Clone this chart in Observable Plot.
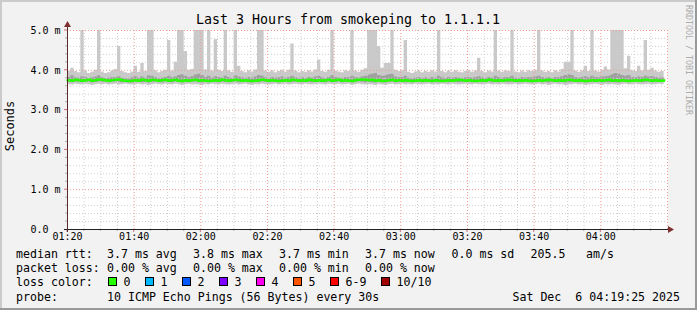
<!DOCTYPE html>
<html><head><meta charset="utf-8">
<script src="https://cdn.jsdelivr.net/npm/d3@7"></script>
<script src="https://cdn.jsdelivr.net/npm/@observablehq/plot@0.6"></script>
<style>
html,body{margin:0;padding:0;background:#f2f2f2;}
#chart{position:relative;width:697px;height:310px;}
svg text{font-family:"DejaVu Sans Mono",monospace;}
</style></head><body><div id="chart"></div>
<script>
// ---- data (seconds, shown as milliseconds "m") : one sample per minute from 01:20 ----
const maxPing = [
3.98,4.05,3.97,3.94,5.2,3.98,3.92,3.95,4.00,5.2,
3.96,3.92,3.94,3.98,4.02,4.6,3.97,3.94,3.92,3.96,
4.1,3.95,4.17,3.97,5.2,5.2,3.99,3.94,3.97,4.00,
4.75,3.98,4.2,5.2,5.2,4.47,4.00,4.02,5.2,5.2,
5.2,4.01,5.2,3.98,4.77,4.00,3.97,5.2,3.99,3.95,
5.2,4.1,3.97,3.94,3.99,3.96,4.01,5.2,5.2,3.98,
3.95,3.99,3.94,3.97,4.00,3.96,4.0,4.66,3.98,3.94,
3.97,3.95,3.99,3.96,4.01,4.26,3.97,3.95,4.00,5.2,
3.98,3.96,3.94,3.99,3.97,5.2,3.98,3.95,4.00,4.04,
5.2,5.2,5.2,4.6,4.05,4.17,4.17,5.2,4.00,3.97,
3.99,4.75,3.95,3.92,3.96,3.98,3.94,3.97,3.95,3.99,
3.96,5.2,3.97,3.94,3.98,3.95,3.99,3.96,3.94,3.97,
3.99,3.95,3.98,4.3,3.97,3.94,3.98,3.96,5.2,3.98,
3.95,3.99,3.97,5.2,3.96,3.94,3.98,3.95,3.99,3.97,
4.00,5.2,3.98,3.95,3.97,3.94,3.99,3.96,4.02,4.2,
4.2,5.2,3.98,3.95,3.99,4.1,3.97,5.2,3.98,3.96,
4.00,4.08,4.01,5.2,5.2,5.2,5.2,4.04,4.35,3.99,
3.97,4.1,3.98,4.75,4.00,4.05,3.98,3.95,3.97,3.96];
const hiPing = [
3.82,3.86,3.81,3.80,3.84,3.82,3.79,3.81,3.83,3.86,
3.81,3.79,3.80,3.82,3.81,3.84,3.80,3.79,3.78,3.81,
3.84,3.80,3.83,3.80,3.86,3.85,3.81,3.79,3.80,3.82,
3.85,3.81,3.83,3.87,3.89,3.85,3.82,3.84,3.88,3.90,
3.87,3.82,3.85,3.80,3.84,3.82,3.80,3.85,3.82,3.79,
3.86,3.83,3.81,3.79,3.82,3.80,3.83,3.87,3.85,3.81,
3.79,3.82,3.80,3.81,3.83,3.80,3.82,3.85,3.81,3.79,
3.81,3.79,3.82,3.80,3.83,3.85,3.81,3.79,3.82,3.86,
3.82,3.80,3.79,3.82,3.81,3.85,3.82,3.80,3.83,3.85,
3.88,3.90,3.92,3.87,3.85,3.87,3.89,3.90,3.83,3.81,
3.82,3.85,3.80,3.78,3.80,3.82,3.79,3.81,3.79,3.82,
3.80,3.85,3.81,3.79,3.82,3.80,3.82,3.80,3.79,3.81,
3.82,3.80,3.82,3.84,3.81,3.79,3.82,3.80,3.85,3.82,
3.80,3.82,3.81,3.85,3.80,3.79,3.82,3.80,3.82,3.81,
3.83,3.85,3.82,3.80,3.81,3.79,3.82,3.81,3.84,3.87,
3.89,3.87,3.82,3.80,3.82,3.84,3.81,3.85,3.82,3.81,
3.83,3.84,3.85,3.89,3.92,3.90,3.87,3.85,3.87,3.82,
3.81,3.83,3.82,3.85,3.83,3.84,3.82,3.80,3.81,3.80];
const medPing = [
3.75,3.74,3.76,3.75,3.74,3.75,3.76,3.74,3.75,3.77,
3.76,3.75,3.74,3.75,3.76,3.77,3.75,3.74,3.73,3.74,
3.75,3.74,3.76,3.75,3.74,3.76,3.75,3.74,3.75,3.76,
3.74,3.75,3.76,3.74,3.73,3.75,3.74,3.75,3.76,3.74,
3.75,3.74,3.73,3.74,3.75,3.74,3.76,3.75,3.74,3.75,
3.76,3.75,3.74,3.75,3.74,3.73,3.74,3.75,3.76,3.75,
3.74,3.75,3.74,3.73,3.74,3.75,3.74,3.76,3.75,3.74,
3.75,3.74,3.76,3.75,3.74,3.75,3.74,3.75,3.76,3.74,
3.75,3.76,3.74,3.75,3.74,3.73,3.75,3.76,3.77,3.76,
3.75,3.76,3.74,3.75,3.73,3.74,3.75,3.76,3.74,3.75,
3.74,3.75,3.74,3.73,3.74,3.75,3.74,3.75,3.74,3.73,
3.75,3.74,3.73,3.74,3.75,3.74,3.75,3.76,3.75,3.74,
3.75,3.74,3.73,3.74,3.75,3.74,3.76,3.75,3.74,3.75,
3.74,3.75,3.76,3.75,3.74,3.75,3.74,3.75,3.74,3.73,
3.74,3.75,3.74,3.75,3.76,3.75,3.74,3.75,3.74,3.75,
3.76,3.75,3.74,3.75,3.74,3.73,3.74,3.75,3.74,3.75,
3.74,3.75,3.76,3.74,3.75,3.74,3.75,3.74,3.73,3.74,
3.75,3.74,3.75,3.76,3.75,3.74,3.75,3.74,3.74,3.75];
const loPing = [
3.70,3.69,3.71,3.70,3.69,3.70,3.71,3.69,3.70,3.71,
3.70,3.71,3.69,3.70,3.71,3.70,3.69,3.70,3.69,3.68,
3.70,3.71,3.69,3.70,3.68,3.70,3.71,3.70,3.69,3.71,
3.70,3.69,3.71,3.70,3.68,3.70,3.69,3.70,3.71,3.69,
3.68,3.70,3.69,3.71,3.70,3.69,3.71,3.70,3.69,3.70,
3.71,3.69,3.70,3.71,3.69,3.68,3.70,3.69,3.71,3.70,
3.69,3.70,3.71,3.69,3.70,3.71,3.69,3.70,3.71,3.70,
3.69,3.71,3.70,3.69,3.70,3.71,3.70,3.69,3.71,3.70,
3.70,3.71,3.69,3.70,3.71,3.68,3.70,3.71,3.70,3.69,
3.70,3.69,3.68,3.70,3.69,3.68,3.70,3.71,3.69,3.70,
3.71,3.69,3.70,3.69,3.71,3.70,3.69,3.70,3.71,3.69,
3.70,3.69,3.71,3.70,3.69,3.71,3.70,3.69,3.70,3.71,
3.70,3.69,3.71,3.70,3.69,3.70,3.71,3.69,3.70,3.69,
3.71,3.70,3.69,3.70,3.71,3.69,3.70,3.71,3.70,3.69,
3.70,3.71,3.69,3.70,3.68,3.70,3.71,3.69,3.70,3.68,
3.69,3.70,3.71,3.69,3.70,3.68,3.69,3.70,3.71,3.70,
3.68,3.70,3.69,3.70,3.69,3.68,3.70,3.71,3.69,3.70,
3.71,3.70,3.69,3.70,3.71,3.69,3.70,3.71,3.70,3.70];
const minPing = [
3.64,3.63,3.65,3.64,3.63,3.65,3.64,3.62,3.64,3.65,
3.64,3.65,3.63,3.64,3.65,3.63,3.64,3.65,3.64,3.63,
3.64,3.65,3.63,3.64,3.62,3.64,3.65,3.64,3.63,3.65,
3.64,3.63,3.65,3.64,3.62,3.64,3.65,3.63,3.64,3.63,
3.62,3.64,3.63,3.65,3.64,3.63,3.65,3.64,3.63,3.64,
3.65,3.63,3.64,3.65,3.63,3.62,3.64,3.63,3.65,3.64,
3.63,3.64,3.65,3.63,3.64,3.65,3.63,3.64,3.65,3.64,
3.63,3.65,3.64,3.63,3.64,3.65,3.64,3.63,3.65,3.64,
3.64,3.65,3.63,3.64,3.65,3.62,3.64,3.65,3.64,3.63,
3.64,3.63,3.62,3.64,3.63,3.62,3.64,3.65,3.63,3.64,
3.65,3.63,3.64,3.63,3.65,3.64,3.63,3.64,3.65,3.63,
3.64,3.63,3.65,3.64,3.63,3.65,3.64,3.63,3.64,3.65,
3.64,3.63,3.65,3.64,3.63,3.64,3.65,3.63,3.64,3.63,
3.65,3.64,3.63,3.64,3.65,3.63,3.64,3.65,3.64,3.63,
3.64,3.65,3.63,3.64,3.62,3.64,3.65,3.63,3.64,3.62,
3.63,3.64,3.65,3.63,3.64,3.62,3.63,3.64,3.65,3.64,
3.62,3.64,3.63,3.64,3.63,3.62,3.64,3.65,3.63,3.64,
3.65,3.64,3.63,3.64,3.65,3.63,3.64,3.65,3.64,3.64];

const xTickLabels = ["01:20","01:40","02:00","02:20","02:40","03:00","03:20","03:40","04:00"];
const yTickValues = [0,1,2,3,4,5];
const yTickLabels = ["0.0","1.0 m","2.0 m","3.0 m","4.0 m","5.0 m"];
const lossLabels = ["0","1","2","3","4","5","6-9","10/10"];
const lossColors = ["#26ff00","#00b8ff","#0059ff","#7e00ff","#ff00ee","#ff5500","#ff0000","#a10000"];
const rttStats = ["3.7 ms avg","3.8 ms max","3.7 ms min","3.7 ms now","0.0 ms sd","205.5","am/s"];
const lossStats = ["0.00 % avg","0.00 % max","0.00 % min","0.00 % now"];
const titleText = "Last 3 Hours from smokeping to 1.1.1.1";
const probeText = "10 ICMP Echo Pings (56 Bytes) every 30s";
const dateText = "Sat Dec  6 04:19:25 2025";

// ---- build ----
const t0 = Date.UTC(2025, 11, 6, 1, 20);
const tEnd = Date.UTC(2025, 11, 6, 4, 20);
const data = maxPing.map((v, i) => ({
  t: new Date(t0 + i * 60000), max: v, hi: hiPing[i], med: medPing[i], lo: loPing[i], min: minPing[i]
}));
const toDate = s => new Date(Date.UTC(2025, 11, 6, +s.slice(0, 2), +s.slice(3, 5)));
const xTicks = xTickLabels.map(toDate);
const minorX = d3.utcMinute.every(5).range(new Date(t0), new Date(tEnd)).filter(d => d.getUTCMinutes() % 20 !== 0);
const majorX = xTicks.slice(1).concat([new Date(tEnd)]);
const minorY = d3.range(1, 26).map(k => k / 5).filter(v => Math.abs(v - Math.round(v)) > 1e-6);
const majorY = [1, 2, 3, 4, 5];
const yLabel = d => yTickLabels[yTickValues.indexOf(d)];

const gridMinor = "#cfcfcf", gridMajor = "#f09a9a";

const plot = Plot.plot({
  width: 697, height: 310,
  marginLeft: 67, marginRight: 30, marginTop: 30, marginBottom: 81,
  style: {background: "#f2f2f2", fontFamily: "DejaVu Sans Mono", fontSize: "10px", color: "#000", overflow: "visible"},
  x: {type: "utc", domain: [new Date(t0), new Date(tEnd)]},
  y: {domain: [0, 5]},
  marks: [
    Plot.frame({fill: "#ffffff", stroke: null}),
    Plot.areaY(data, {x: "t", y1: "min", y2: "max", curve: "step-after", fill: "#c9c9c9", clip: true}),
    Plot.areaY(data, {x: "t", y1: "lo", y2: "hi", curve: "step-after", fill: "#a0a0a0", clip: true}),
    Plot.ruleX(minorX, {stroke: gridMinor, strokeDasharray: "1,2"}),
    Plot.ruleY(minorY, {stroke: gridMinor, strokeDasharray: "1,2"}),
    Plot.ruleX(majorX, {stroke: gridMajor, strokeDasharray: "1,2"}),
    Plot.ruleY(majorY, {stroke: gridMajor, strokeDasharray: "1,2"}),
    Plot.lineY(data, {x: "t", y: "med", curve: "step-after", stroke: "#26ff00", strokeWidth: 2.5}),
    Plot.axisY(yTickValues.slice(1), {tickSize: 0, tickPadding: 7, tickFormat: yLabel, label: null, fontSize: 10}),
    Plot.axisY([0], {tickSize: 0, tickPadding: 19, tickFormat: yLabel, label: null, fontSize: 10}),
    Plot.axisX(xTicks, {tickSize: 0, tickPadding: 3, tickFormat: (d) => xTickLabels[xTicks.findIndex(t => +t === +d)], label: null, fontSize: 10})
  ]
});
document.getElementById("chart").appendChild(plot);

const sx = plot.scale("x"), sy = plot.scale("y");
const X0 = sx.apply(new Date(t0)), X1 = sx.apply(new Date(tEnd));
const Y0 = sy.apply(0), Y5 = sy.apply(5);
const svg = d3.select(plot);

// small axis ticks
const tk = svg.append("g");
minorY.forEach(v => tk.append("line").attr("x1", X0 - 2).attr("x2", X0).attr("y1", sy.apply(v)).attr("y2", sy.apply(v)).attr("stroke", "#b0b0b0"));
majorY.forEach(v => tk.append("line").attr("x1", X0 - 3).attr("x2", X0).attr("y1", sy.apply(v)).attr("y2", sy.apply(v)).attr("stroke", "#d07070"));
minorX.forEach(d => tk.append("line").attr("x1", sx.apply(d)).attr("x2", sx.apply(d)).attr("y1", Y0).attr("y2", Y0 + 2).attr("stroke", "#b0b0b0"));
xTicks.forEach(d => tk.append("line").attr("x1", sx.apply(d)).attr("x2", sx.apply(d)).attr("y1", Y0).attr("y2", Y0 + 3).attr("stroke", "#d07070"));

// axes with arrows
svg.append("line").attr("x1", X0 - 3).attr("x2", X1 + 2).attr("y1", Y0 + 0.5).attr("y2", Y0 + 0.5).attr("stroke", "#222").attr("stroke-width", 1);
svg.append("line").attr("x1", X0 + 0.5).attr("x2", X0 + 0.5).attr("y1", Y0 + 3).attr("y2", Y5 - 4).attr("stroke", "#5a2a2a").attr("stroke-width", 1);
svg.append("path").attr("d", `M${X1 + 1},${Y0 - 3}L${X1 + 7},${Y0 + 0.5}L${X1 + 1},${Y0 + 4}Z`).attr("fill", "#7f3131");
svg.append("path").attr("d", `M${X0 - 3},${Y5 - 3}L${X0 + 0.5},${Y5 - 9}L${X0 + 4},${Y5 - 3}Z`).attr("fill", "#7f3131");

// title, unit label, watermark
svg.append("text").attr("x", 348).attr("y", 24).attr("text-anchor", "middle").attr("font-size", "13.3px").attr("fill", "#000").text(titleText);
svg.append("text").attr("transform", "translate(14,126) rotate(-90)").attr("text-anchor", "middle").attr("font-size", "12px").attr("fill", "#000").text("Seconds");
svg.append("text").attr("transform", "translate(685.5,5) rotate(90)").attr("text-anchor", "start").attr("font-size", "8.3px").attr("fill", "#acacac").text("RRDTOOL / TOBI OETIKER");

// legend
const lg = svg.append("g").attr("font-size", "11.6px").attr("fill", "#000").attr("text-anchor", "start").attr("xml:space", "preserve").style("white-space", "pre");
const rows = [257.5, 272, 286.2, 300.5];
const statX = [107, 193, 279, 365, 451.5, 530.5, 586];
const tx = (x, y, s, anchor) => lg.append("text").attr("x", x).attr("y", y).attr("text-anchor", anchor || "start").text(s);
tx(16, rows[0], "median rtt:");
rttStats.forEach((s, i) => tx(statX[i], rows[0], s));
tx(16, rows[1], "packet loss:");
lossStats.forEach((s, i) => tx(statX[i], rows[1], s));
tx(16, rows[2], "loss color:");
let bx = 108;
lossLabels.forEach((s, i) => {
  lg.append("rect").attr("x", bx + 0.5).attr("y", 277.5).attr("width", 8).attr("height", 8).attr("fill", lossColors[i]).attr("stroke", "#000").attr("stroke-width", 1);
  tx(bx + 15.5, rows[2], s);
  bx += 30 + 7 * s.length;
});
tx(16, rows[3], "probe:");
tx(107, rows[3], probeText);
tx(680, rows[3], dateText, "end");

// outer shaded frame
svg.append("path").attr("d", "M0,0H697V2H2V310H0Z").attr("fill", "#cbcbcb");
svg.append("path").attr("d", "M697,0V310H0V308H695V0Z").attr("fill", "#999999");
</script>
</body></html>
